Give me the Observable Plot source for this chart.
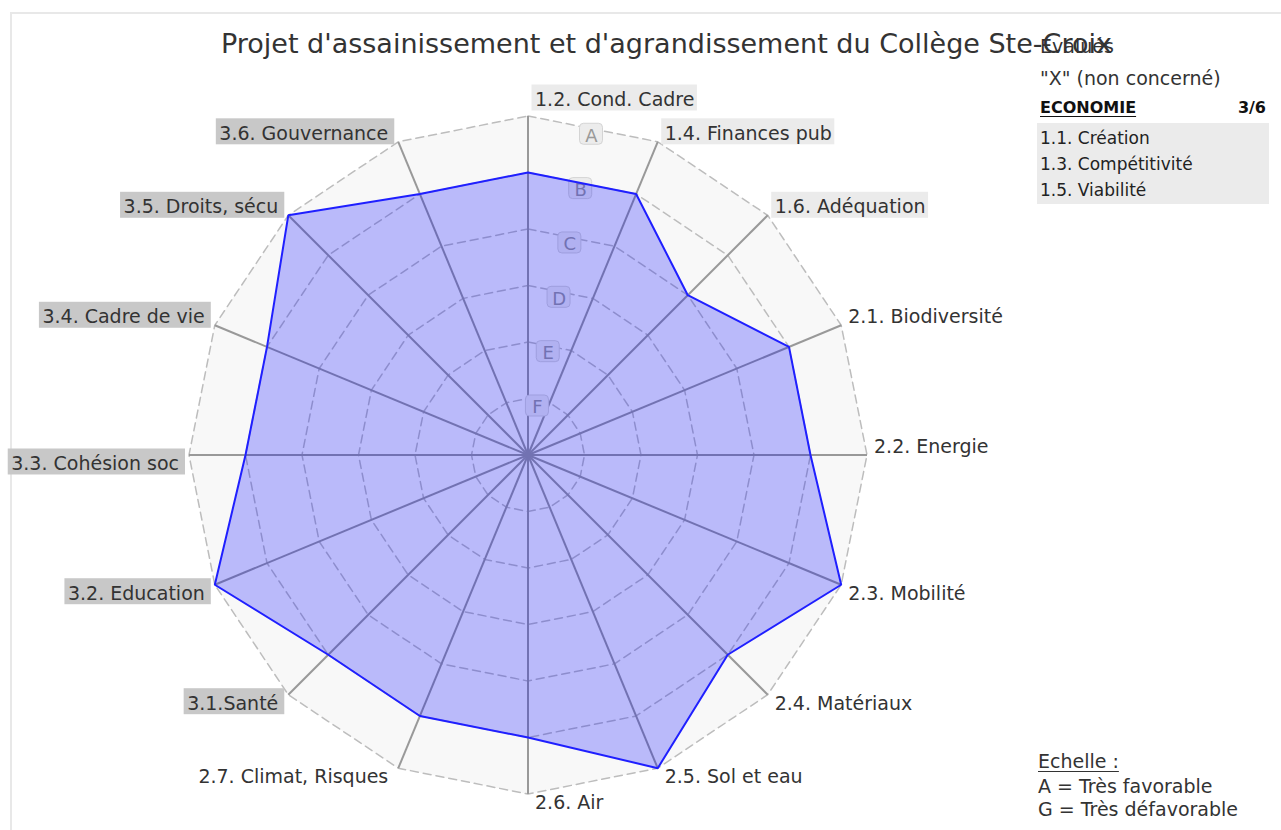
<!DOCTYPE html>
<html><head><meta charset="utf-8">
<script src="https://cdn.jsdelivr.net/npm/d3@7"></script>
<script src="https://cdn.jsdelivr.net/npm/@observablehq/plot@0.6"></script>
<style>
body{margin:0;background:#fff;font-family:"DejaVu Sans",sans-serif;}
#wrap{position:relative;width:1281px;height:830px;overflow:hidden;background:#fff;}
#chart{position:absolute;left:0;top:0;}
#chart svg{display:block;}
#frame{position:absolute;left:10px;top:12px;width:1400px;height:1000px;border-top:2px solid #e8e8e8;border-left:2px solid #e8e8e8;}
.t{position:absolute;white-space:nowrap;color:#333;}
#box{position:absolute;left:1037px;top:123px;width:232px;height:81px;background:#ebebeb;}
</style></head>
<body><div id="wrap"><div id="frame"></div><div id="chart"></div><div id="box"></div></div>
<script>
// ---------- data ----------
const title = "Projet d'assainissement et d'agrandissement du Collège Ste-Croix";
const axisLabels = ["1.2. Cond. Cadre","1.4. Finances pub","1.6. Adéquation","2.1. Biodiversité","2.2. Energie","2.3. Mobilité","2.4. Matériaux","2.5. Sol et eau","2.6. Air","2.7. Climat, Risques","3.1.Santé","3.2. Education","3.3. Cohésion soc","3.4. Cadre de vie","3.5. Droits, sécu","3.6. Gouvernance"];
const axisGrades = ["B","B","C","B","B","A","B","A","B","B","B","A","B","B","A","B"];
const gradeScale = ["G","F","E","D","C","B","A"];      // index = level (0 = centre)
const ringGrades = ["F","E","D","C","B","A"];
const legendHeader = ["Evalués", "\"X\" (non concerné)"];
const themeName = "ECONOMIE";
const themeScore = "3/6";
const notEvaluated = ["1.1. Création","1.3. Compétitivité","1.5. Viabilité"];
const scaleTitle = "Echelle :";
const scaleLines = ["A = Très favorable","G = Très défavorable"];

// ---------- styles / layout ----------
const themeBoxFill = {"1":"#ebebeb","3":"#c8c8c8"};
const W = 1281, H = 830, CX = 527.5, CY = 454.5, RPX = 339;
const N = axisLabels.length;
const maxLevel = gradeScale.length - 1;
const k = RPX / maxLevel;              // px per unit
const fs = 19;
const ang = i => 2 * Math.PI * i / N;
const pt = (i, r) => [r * Math.sin(ang(i)), r * Math.cos(ang(i))];

// rings
const rings = [];
ringGrades.forEach(g => {
  const L = gradeScale.indexOf(g);
  for (let i = 0; i <= N; i++) { const [x, y] = pt(i % N, L); rings.push({level: L, x, y}); }
});
const outer = rings.filter(d => d.level === maxLevel);
// spokes
const spokes = axisLabels.map((d, i) => { const [x, y] = pt(i, maxLevel); return {x1: 0, y1: 0, x2: x, y2: y}; });
// polygon
const poly = axisLabels.map((d, i) => { const [x, y] = pt(i, gradeScale.indexOf(axisGrades[i])); return {x, y}; });
poly.push(poly[0]);

// axis labels (anchored at the outer vertex, offset in px converted to units)
const ctx = document.createElement("canvas").getContext("2d");
ctx.font = `${fs}px "DejaVu Sans"`;
const labels = axisLabels.map((label, i) => {
  const [vx, vy] = pt(i, maxLevel);
  const s = Math.sin(ang(i)), c = Math.cos(ang(i));
  const right = s >= 0, upper = c > 0;
  const dx = right ? 7 : -10;
  const extra = (Math.abs(s) < 1e-9 && c > 0) ? -8 : 0;
  const b = upper ? -2 + extra : 1.5 + 0.71 * fs;
  const w = ctx.measureText(label).width;
  const x1p = right ? dx - 3 : dx - w - 3;
  const x2p = right ? dx + w + 3 : dx + 6.5;
  const y1p = b - 0.71 * fs - 7.5, y2p = b + 5;
  return {label, right, tx: vx + dx / k, ty: vy - b / k, fill: themeBoxFill[label[0]],
    bx1: vx + x1p / k, bx2: vx + x2p / k, by1: vy - y1p / k, by2: vy - y2p / k};
});
const boxed = labels.filter(d => d.fill);

// grade labels
const ga = Math.PI / N;
const gradeLabels = ringGrades.map(g => {
  const L = gradeScale.indexOf(g);
  const r = L * Math.cos(ga) - 7 / k;
  const x = r * Math.sin(ga), y = r * Math.cos(ga);
  return {g, x, y, x1: x - 11.5 / k, x2: x + 11.5 / k, y1: y + 12 / k, y2: y - 9 / k};
});

const textOpts = {x: "tx", y: "ty", text: "label", lineAnchor: "bottom", fontSize: fs, fill: "#333", fontFamily: "DejaVu Sans"};
const chart = Plot.plot({
  width: W, height: H, margin: 0,
  x: {domain: [-CX / k, (W - CX) / k], axis: null},
  y: {domain: [-(H - CY) / k, CY / k], axis: null},
  color: {type: "identity"},
  style: {background: "transparent", overflow: "visible"},
  marks: [
    Plot.line(outer, {x: "x", y: "y", fill: "#f8f8f8", stroke: "none"}),
    Plot.line(rings, {x: "x", y: "y", z: "level", stroke: "#bdbdbd", strokeWidth: 1.5, strokeDasharray: "8,5", strokeLinejoin: "miter"}),
    Plot.link(spokes, {x1: "x1", y1: "y1", x2: "x2", y2: "y2", stroke: "#999", strokeWidth: 2}),
    Plot.rect(boxed, {x1: "bx1", x2: "bx2", y1: "by1", y2: "by2", fill: "fill"}),
    Plot.text(labels.filter(d => d.right), {...textOpts, textAnchor: "start"}),
    Plot.text(labels.filter(d => !d.right), {...textOpts, textAnchor: "end"}),
    Plot.rect(gradeLabels, {x1: "x1", x2: "x2", y1: "y1", y2: "y2", fill: "#ececec", stroke: "#d4d4d4", rx: 4}),
    Plot.text(gradeLabels, {x: "x", y: "y", text: "g", fontSize: 18, fill: "#999", lineAnchor: "middle", fontFamily: "DejaVu Sans"}),
    Plot.line(poly, {x: "x", y: "y", fill: "rgba(0,0,255,0.25)", stroke: "#1f1fff", strokeWidth: 2, strokeLinejoin: "miter"})
  ]
});
document.getElementById("chart").appendChild(chart);

// ---------- title & legend (HTML) ----------
const wrap = document.getElementById("wrap");
function put(text, {left, right, baseline, size, weight = "normal", color = "#333", underline = false}) {
  const el = document.createElement("div");
  el.className = "t";
  el.textContent = text;
  el.style.fontSize = size + "px";
  el.style.lineHeight = size + "px";
  el.style.fontWeight = weight;
  el.style.color = color;
  el.style.top = (baseline - 0.846 * size) + "px";
  if (left != null) el.style.left = left + "px";
  if (right != null) el.style.right = (W - right) + "px";
  if (underline) { el.style.textDecoration = "underline"; el.style.textUnderlineOffset = "3px"; }
  wrap.appendChild(el);
}
put(legendHeader[0], {left: 1040, baseline: 53, size: 19});
put(title, {left: 221, baseline: 53, size: 27, color: "#333"});
put(legendHeader[1], {left: 1040, baseline: 85, size: 19});
put(themeName, {left: 1040, baseline: 114, size: 16, weight: "bold", color: "#111", underline: true});
put(themeScore, {right: 1266, baseline: 114, size: 16, weight: "bold", color: "#111"});
notEvaluated.forEach((d, j) => put(d, {left: 1040, baseline: 144 + 26 * j, size: 17, color: "#222"}));
put(scaleTitle, {left: 1038, baseline: 768, size: 19, underline: true});
scaleLines.forEach((d, j) => put(d, {left: 1038, baseline: 793 + 23 * j, size: 19}));
</script>
</body></html>
